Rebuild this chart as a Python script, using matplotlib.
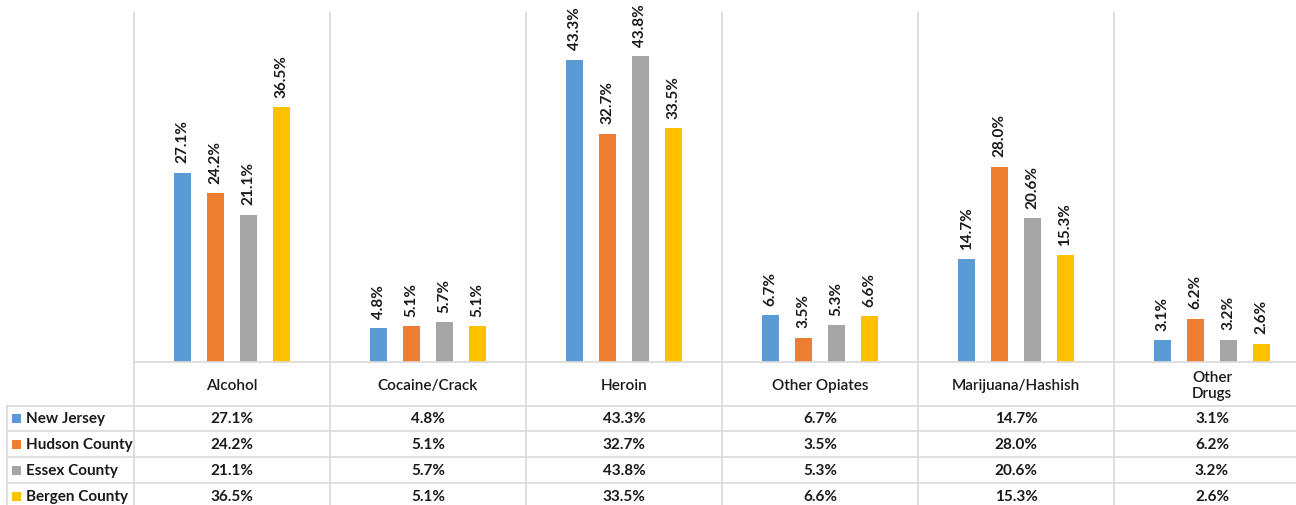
import matplotlib
matplotlib.use("Agg")
import matplotlib.pyplot as plt
import numpy as np
from matplotlib.transforms import blended_transform_factory
from matplotlib.lines import Line2D
from matplotlib.patches import Rectangle

categories = ["Alcohol", "Cocaine/Crack", "Heroin", "Other Opiates", "Marijuana/Hashish", "Other\nDrugs"]
series_names = ["New Jersey", "Hudson County", "Essex County", "Bergen County"]
new_jersey = [27.1, 4.8, 43.3, 6.7, 14.7, 3.1]
hudson = [24.2, 5.1, 32.7, 3.5, 28.0, 6.2]
essex = [21.1, 5.7, 43.8, 5.3, 20.6, 3.2]
bergen = [36.5, 5.1, 33.5, 6.6, 15.3, 2.6]
series_values = [new_jersey, hudson, essex, bergen]
colors = ["#5B9BD5", "#ED7D31", "#A5A5A5", "#FFC000"]

plt.rcParams['font.family'] = ['Lato', 'DejaVu Sans']

W, H = 1296, 506
fig = plt.figure(figsize=(W / 100, H / 100), dpi=100)

def fy(py):
    return 1 - py / H

x_left, x_right = 134, 1310
y_top, y_base = 14, 363
ax = fig.add_axes([x_left / W, fy(y_base), (x_right - x_left) / W, (y_base - y_top) / H])
ax.set_xlim(0, len(categories))
ax.set_ylim(0, 50)
ax.axis('off')

grid_c = "#D9D9D9"
bw = 0.087
step = 0.168
x = np.arange(len(categories)) + 0.5
for i, (vals, col) in enumerate(zip(series_values, colors)):
    xs = x + (i - 1.5) * step
    ax.bar(xs, vals, width=bw, color=col, zorder=3)
    for xi, v in zip(xs, vals):
        ax.annotate(f"{v:.1f}%", (xi, v), xytext=(0, 7.5), textcoords='offset points',
                    rotation=90, ha='center', va='bottom', fontsize=11, fontweight='bold',
                    color='#1a1a1a', annotation_clip=False)

# Table and grid lines
tr = blended_transform_factory(ax.transData, fig.transFigure)
bottom_px = 520
for k in range(len(categories) + 1):
    fig.add_artist(Line2D([k, k], [fy(y_top), fy(bottom_px)], transform=tr, color=grid_c, lw=1.2))
fig.add_artist(Line2D([x_left / W, 1.0], [fy(y_base), fy(y_base)], transform=fig.transFigure, color=grid_c, lw=1.2))
row_lines = [407, 432, 458, 484]
for ry in row_lines:
    fig.add_artist(Line2D([7 / W, 1.0], [fy(ry), fy(ry)], transform=fig.transFigure, color=grid_c, lw=1.2))
fig.add_artist(Line2D([7 / W, 7 / W], [fy(407), fy(bottom_px)], transform=fig.transFigure, color=grid_c, lw=1.2))

# Category header
for xi, c in zip(x, categories):
    fig.text(xi, fy(386), c, transform=tr, ha='center', va='center', fontsize=11,
             fontweight='semibold', color='#1a1a1a', linespacing=1.25)

row_centers = [419.5, 445, 471, 497]
for r, (name, vals, col) in enumerate(zip(series_names, series_values, colors)):
    cy = row_centers[r]
    fig.add_artist(Rectangle((12 / W, fy(cy + 4.5)), 9 / W, 9 / H, transform=fig.transFigure,
                             facecolor=col, edgecolor='none'))
    fig.text(26 / W, fy(cy), name, ha='left', va='center', fontsize=11, fontweight='bold',
             color='#1a1a1a')
    for xi, v in zip(x, vals):
        fig.text(xi, fy(cy), f"{v:.1f}%", transform=tr, ha='center', va='center',
                 fontsize=11, fontweight='bold', color='#1a1a1a')

fig.savefig("out.png", dpi=100)
